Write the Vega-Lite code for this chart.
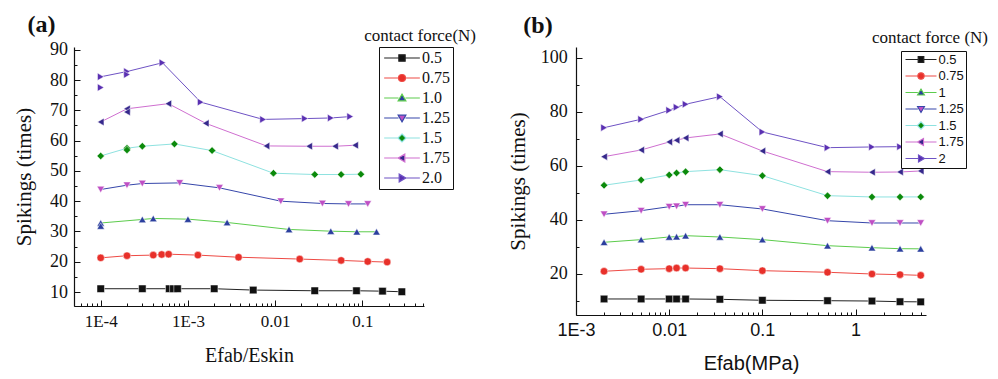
{
  "$schema": "https://vega.github.io/schema/vega-lite/v6.json",
  "background": "white",
  "padding": {"left": 13, "top": 12, "right": 0, "bottom": 0},
  "config": {"view": {"stroke": null}, "axis": {"grid": false}},
  "spacing": 31,
  "resolve": {"scale": {"fill": "independent", "shape": "independent", "stroke": "independent"}, "legend": {"fill": "independent", "shape": "independent", "stroke": "independent"}},
  "datasets": {
    "panelA": [
      {"f": "0.5", "x": 0.0001, "y": 11.1, "r": "a"},
      {"f": "0.5", "x": 0.0003, "y": 11.1, "r": "a"},
      {"f": "0.5", "x": 0.00061, "y": 11.1, "r": "a"},
      {"f": "0.5", "x": 0.00068, "y": 11.1, "r": "a"},
      {"f": "0.5", "x": 0.00076, "y": 11.1, "r": "a"},
      {"f": "0.5", "x": 0.002, "y": 11.1, "r": "a"},
      {"f": "0.5", "x": 0.0056, "y": 10.66, "r": "a"},
      {"f": "0.5", "x": 0.0284, "y": 10.43, "r": "a"},
      {"f": "0.5", "x": 0.0855, "y": 10.43, "r": "a"},
      {"f": "0.5", "x": 0.17, "y": 10.3, "r": "a"},
      {"f": "0.5", "x": 0.283, "y": 10.1, "r": "a"},
      {"f": "0.75", "x": 0.0001, "y": 21.3, "r": "a"},
      {"f": "0.75", "x": 0.0002, "y": 22.0, "r": "a"},
      {"f": "0.75", "x": 0.0004, "y": 22.2, "r": "a"},
      {"f": "0.75", "x": 0.0005, "y": 22.4, "r": "a"},
      {"f": "0.75", "x": 0.0006, "y": 22.5, "r": "a"},
      {"f": "0.75", "x": 0.0013, "y": 22.2, "r": "a"},
      {"f": "0.75", "x": 0.0038, "y": 21.5, "r": "a"},
      {"f": "0.75", "x": 0.0191, "y": 20.9, "r": "a"},
      {"f": "0.75", "x": 0.057, "y": 20.45, "r": "a"},
      {"f": "0.75", "x": 0.115, "y": 20.1, "r": "a"},
      {"f": "0.75", "x": 0.192, "y": 19.9, "r": "a"},
      {"f": "1.0", "x": 0.0001, "y": 32.8, "r": "a"},
      {"f": "1.0", "x": 0.0001, "y": 31.8, "r": "b1"},
      {"f": "1.0", "x": 0.0003, "y": 33.97, "r": "a"},
      {"f": "1.0", "x": 0.0004, "y": 34.3, "r": "a"},
      {"f": "1.0", "x": 0.001, "y": 34.07, "r": "a"},
      {"f": "1.0", "x": 0.00281, "y": 32.98, "r": "a"},
      {"f": "1.0", "x": 0.0144, "y": 30.67, "r": "a"},
      {"f": "1.0", "x": 0.0434, "y": 30.1, "r": "a"},
      {"f": "1.0", "x": 0.0863, "y": 29.9, "r": "a"},
      {"f": "1.0", "x": 0.145, "y": 29.9, "r": "a"},
      {"f": "1.25", "x": 0.0001, "y": 43.86, "r": "a"},
      {"f": "1.25", "x": 0.0002, "y": 45.28, "r": "a"},
      {"f": "1.25", "x": 0.0003, "y": 45.83, "r": "a"},
      {"f": "1.25", "x": 0.000805, "y": 46.04, "r": "a"},
      {"f": "1.25", "x": 0.0023, "y": 44.4, "r": "a"},
      {"f": "1.25", "x": 0.0116, "y": 40.0, "r": "a"},
      {"f": "1.25", "x": 0.0348, "y": 39.24, "r": "a"},
      {"f": "1.25", "x": 0.0692, "y": 39.1, "r": "a"},
      {"f": "1.25", "x": 0.115, "y": 39.1, "r": "a"},
      {"f": "1.5", "x": 0.0001, "y": 54.94, "r": "a"},
      {"f": "1.5", "x": 0.0002, "y": 57.48, "r": "a"},
      {"f": "1.5", "x": 0.0002, "y": 56.9, "r": "b2"},
      {"f": "1.5", "x": 0.0003, "y": 58.14, "r": "a"},
      {"f": "1.5", "x": 0.0007, "y": 58.9, "r": "a"},
      {"f": "1.5", "x": 0.00189, "y": 56.7, "r": "a"},
      {"f": "1.5", "x": 0.00955, "y": 49.23, "r": "a"},
      {"f": "1.5", "x": 0.0284, "y": 48.8, "r": "a"},
      {"f": "1.5", "x": 0.057, "y": 48.8, "r": "a"},
      {"f": "1.5", "x": 0.096, "y": 48.9, "r": "a"},
      {"f": "1.75", "x": 0.0001, "y": 66.15, "r": "a"},
      {"f": "1.75", "x": 0.0002, "y": 70.5, "r": "a"},
      {"f": "1.75", "x": 0.0002, "y": 69.45, "r": "b3"},
      {"f": "1.75", "x": 0.000596, "y": 72.2, "r": "a"},
      {"f": "1.75", "x": 0.0016, "y": 65.7, "r": "a"},
      {"f": "1.75", "x": 0.00794, "y": 58.24, "r": "a"},
      {"f": "1.75", "x": 0.0245, "y": 58.14, "r": "a"},
      {"f": "1.75", "x": 0.0486, "y": 58.14, "r": "a"},
      {"f": "1.75", "x": 0.0824, "y": 58.47, "r": "a"},
      {"f": "2.0", "x": 0.0001, "y": 81.06, "r": "a"},
      {"f": "2.0", "x": 0.0001, "y": 77.5, "r": "b4"},
      {"f": "2.0", "x": 0.0002, "y": 82.8, "r": "a"},
      {"f": "2.0", "x": 0.0002, "y": 81.8, "r": "b5"},
      {"f": "2.0", "x": 0.00051, "y": 85.7, "r": "a"},
      {"f": "2.0", "x": 0.0014, "y": 72.7, "r": "a"},
      {"f": "2.0", "x": 0.00726, "y": 67.0, "r": "a"},
      {"f": "2.0", "x": 0.0219, "y": 67.27, "r": "a"},
      {"f": "2.0", "x": 0.0434, "y": 67.47, "r": "a"},
      {"f": "2.0", "x": 0.0723, "y": 67.93, "r": "a"}
    ],
    "panelB": [
      {"f": "0.5", "x": 0.002, "y": 10.76}, {"f": "0.5", "x": 0.005, "y": 10.76}, {"f": "0.5", "x": 0.01, "y": 10.76}, {"f": "0.5", "x": 0.012, "y": 10.76}, {"f": "0.5", "x": 0.015, "y": 10.76}, {"f": "0.5", "x": 0.035, "y": 10.64}, {"f": "0.5", "x": 0.1, "y": 10.28}, {"f": "0.5", "x": 0.5, "y": 10.13}, {"f": "0.5", "x": 1.5, "y": 10.0}, {"f": "0.5", "x": 3, "y": 9.76}, {"f": "0.5", "x": 5, "y": 9.7},
      {"f": "0.75", "x": 0.002, "y": 21.0}, {"f": "0.75", "x": 0.005, "y": 21.74}, {"f": "0.75", "x": 0.01, "y": 21.96}, {"f": "0.75", "x": 0.012, "y": 22.2}, {"f": "0.75", "x": 0.015, "y": 22.2}, {"f": "0.75", "x": 0.035, "y": 21.96}, {"f": "0.75", "x": 0.1, "y": 21.22}, {"f": "0.75", "x": 0.5, "y": 20.63}, {"f": "0.75", "x": 1.5, "y": 20.0}, {"f": "0.75", "x": 3, "y": 19.75}, {"f": "0.75", "x": 5, "y": 19.5},
      {"f": "1", "x": 0.002, "y": 31.72}, {"f": "1", "x": 0.005, "y": 32.7}, {"f": "1", "x": 0.01, "y": 33.68}, {"f": "1", "x": 0.012, "y": 33.8}, {"f": "1", "x": 0.015, "y": 34.16}, {"f": "1", "x": 0.035, "y": 33.68}, {"f": "1", "x": 0.1, "y": 32.7}, {"f": "1", "x": 0.5, "y": 30.46}, {"f": "1", "x": 1.5, "y": 29.72}, {"f": "1", "x": 3, "y": 29.35}, {"f": "1", "x": 5, "y": 29.3},
      {"f": "1.25", "x": 0.002, "y": 42.07}, {"f": "1.25", "x": 0.005, "y": 43.4}, {"f": "1.25", "x": 0.01, "y": 44.88}, {"f": "1.25", "x": 0.012, "y": 45.0}, {"f": "1.25", "x": 0.015, "y": 45.6}, {"f": "1.25", "x": 0.035, "y": 45.6}, {"f": "1.25", "x": 0.1, "y": 44.03}, {"f": "1.25", "x": 0.5, "y": 39.7}, {"f": "1.25", "x": 1.5, "y": 38.85}, {"f": "1.25", "x": 3, "y": 38.85}, {"f": "1.25", "x": 5, "y": 38.85},
      {"f": "1.5", "x": 0.002, "y": 52.8}, {"f": "1.5", "x": 0.005, "y": 54.75}, {"f": "1.5", "x": 0.01, "y": 56.6}, {"f": "1.5", "x": 0.012, "y": 57.34}, {"f": "1.5", "x": 0.015, "y": 57.83}, {"f": "1.5", "x": 0.035, "y": 58.56}, {"f": "1.5", "x": 0.1, "y": 56.34}, {"f": "1.5", "x": 0.5, "y": 48.95}, {"f": "1.5", "x": 1.5, "y": 48.47}, {"f": "1.5", "x": 3, "y": 48.47}, {"f": "1.5", "x": 5, "y": 48.5},
      {"f": "1.75", "x": 0.002, "y": 63.37}, {"f": "1.75", "x": 0.005, "y": 65.84}, {"f": "1.75", "x": 0.01, "y": 68.8}, {"f": "1.75", "x": 0.012, "y": 69.42}, {"f": "1.75", "x": 0.015, "y": 70.28}, {"f": "1.75", "x": 0.035, "y": 71.76}, {"f": "1.75", "x": 0.1, "y": 65.47}, {"f": "1.75", "x": 0.5, "y": 57.83}, {"f": "1.75", "x": 1.5, "y": 57.6}, {"f": "1.75", "x": 3, "y": 57.7}, {"f": "1.75", "x": 5, "y": 58.08},
      {"f": "2", "x": 0.002, "y": 74.08}, {"f": "2", "x": 0.005, "y": 77.19}, {"f": "2", "x": 0.01, "y": 80.52}, {"f": "2", "x": 0.012, "y": 81.63}, {"f": "2", "x": 0.015, "y": 82.74}, {"f": "2", "x": 0.035, "y": 85.55}, {"f": "2", "x": 0.1, "y": 72.5}, {"f": "2", "x": 0.5, "y": 66.69}, {"f": "2", "x": 1.5, "y": 66.95}, {"f": "2", "x": 3, "y": 67.06}, {"f": "2", "x": 5, "y": 67.3}
    ]
  },
  "hconcat": [
    {
      "title": {"text": "(a)", "anchor": "start", "font": "Liberation Serif", "fontSize": 24, "fontWeight": "bold", "color": "#111", "dx": 14, "offset": -10},
      "resolve": {"scale": {"fill": "independent", "shape": "independent", "stroke": "independent"}, "legend": {"fill": "independent", "shape": "independent", "stroke": "independent"}},
      "vconcat": [
        {
          "title": {"text": "contact force(N)", "anchor": "end", "frame": "group", "font": "Liberation Serif", "fontSize": 17, "fontWeight": "normal", "color": "#111", "dx": 52, "offset": -4},
          "width": 350,
          "height": 259,
          "data": {"name": "panelA"},
          "resolve": {"scale": {"fill": "independent", "shape": "independent", "stroke": "independent"}, "legend": {"fill": "independent", "shape": "independent", "stroke": "independent"}},
          "encoding": {
            "x": {
              "field": "x", "type": "quantitative",
              "scale": {"type": "log", "domain": [0.0000494, 0.508], "nice": false},
              "axis": {
                "title": "Efab/Eskin",
                "titleFont": "Liberation Serif", "titleFontSize": 20, "titleFontWeight": "normal", "titleColor": "#111", "titlePadding": 13,
                "values": [0.00005, 0.00006, 0.00007, 0.00008, 0.00009, 0.0001, 0.0002, 0.0003, 0.0004, 0.0005, 0.0006, 0.0007, 0.0008, 0.0009, 0.001, 0.002, 0.003, 0.004, 0.005, 0.006, 0.007, 0.008, 0.009, 0.01, 0.02, 0.03, 0.04, 0.05, 0.06, 0.07, 0.08, 0.09, 0.1, 0.2, 0.3, 0.4, 0.5],
                "labelExpr": "datum.value == 0.0001 ? '1E-4' : datum.value == 0.001 ? '1E-3' : datum.value == 0.01 ? '0.01' : datum.value == 0.1 ? '0.1' : ''",
                "labelFont": "Liberation Serif", "labelFontSize": 17, "labelColor": "#111",
                "labelOverlap": false, "labelFlush": false, "labelPadding": 13,
                "tickSize": {"condition": {"test": "datum.value == 0.0001 || datum.value == 0.001 || datum.value == 0.01 || datum.value == 0.1", "value": -6}, "value": -3},
                "tickColor": "#111", "domainColor": "#111", "domainWidth": 1.2
              }
            },
            "y": {
              "field": "y", "type": "quantitative",
              "scale": {"domain": [5.4, 90.9], "nice": false, "zero": false},
              "axis": {
                "title": "Spikings (times)",
                "titleFont": "Liberation Serif", "titleFontSize": 21, "titleFontWeight": "normal", "titleColor": "#111", "titlePadding": 15,
                "values": [10, 15, 20, 25, 30, 35, 40, 45, 50, 55, 60, 65, 70, 75, 80, 85, 90],
                "labelExpr": "datum.value % 10 == 0 ? datum.label : ''",
                "labelFont": "Liberation Serif", "labelFontSize": 18, "labelColor": "#111",
                "labelOverlap": false, "labelFlush": false, "labelPadding": 12.6,
                "tickSize": {"condition": {"test": "datum.value % 10 == 0", "value": -6}, "value": -3},
                "tickColor": "#111", "domainColor": "#111", "domainWidth": 1.2
              }
            }
          },
          "layer": [
            {
              "mark": {"type": "line", "strokeWidth": 1},
              "encoding": {
                "stroke": {"field": "f", "type": "nominal", "legend": null,
                  "scale": {"range": ["#222222", "#ee4a44", "#5ccc4c", "#3646aa", "#8ee2e0", "#cf6fd0", "#6e52c4"]}},
                "detail": {"field": "r", "type": "nominal"}
              }
            },
            {
              "mark": {"type": "point", "filled": true, "size": 56, "opacity": 1, "stroke": "white", "strokeWidth": 0.5},
              "encoding": {
                "fill": {"field": "f", "type": "nominal", "legend": null,
                  "scale": {"range": ["#111111", "#e8302a", "#2b3f9e", "#bf4fc4", "#0b8a0b", "#36288c", "#5a30b2"]}},
                "shape": {"field": "f", "type": "nominal", "legend": null,
                  "scale": {"range": ["square", "circle", "triangle-up", "triangle-down", "diamond", "triangle-left", "triangle-right"]}}
              }
            },
            {
              "transform": [{"filter": "false"}],
              "mark": {"type": "point", "filled": true, "size": 49, "opacity": 1, "strokeWidth": 1.2},
              "encoding": {
                "fill": {"field": "f", "type": "nominal",
                  "scale": {"domain": ["0.5", "0.75", "1.0", "1.25", "1.5", "1.75", "2.0"], "range": ["#111111", "#e8302a", "#2b3f9e", "#bf4fc4", "#0b8a0b", "#36288c", "#5a30b2"]},
                  "legend": {"title": null, "orient": "none", "legendX": 305, "legendY": 0, "strokeColor": "#111", "fillColor": "white", "padding": 3, "rowPadding": 4, "symbolSize": 49, "symbolStrokeWidth": 1.2, "symbolOffset": 12, "labelOffset": 12, "labelFont": "Liberation Serif", "labelFontSize": 16, "labelColor": "#111"}},
                "stroke": {"field": "f", "type": "nominal",
                  "scale": {"domain": ["0.5", "0.75", "1.0", "1.25", "1.5", "1.75", "2.0"], "range": ["#222222", "#ee4a44", "#5ccc4c", "#3646aa", "#8ee2e0", "#cf6fd0", "#6e52c4"]},
                  "legend": {"title": null, "orient": "none", "legendX": 305, "legendY": 0, "strokeColor": "#111", "fillColor": "white", "padding": 3, "rowPadding": 4, "symbolSize": 49, "symbolStrokeWidth": 1.2, "symbolOffset": 12, "labelOffset": 12, "labelFont": "Liberation Serif", "labelFontSize": 16, "labelColor": "#111"}},
                "shape": {"field": "f", "type": "nominal",
                  "scale": {"domain": ["0.5", "0.75", "1.0", "1.25", "1.5", "1.75", "2.0"], "range": ["M-5.1,0H-0.9M0.9,0H5.1M-0.9,-0.9H0.9V0.9H-0.9Z", "M-5.1,0H-1M1,0H5.1M1,0A1,1 0 1,1 -1,0A1,1 0 1,1 1,0Z", "M-5.1,0H-1M1,0H5.1M0,-1.1L1.1,0.8H-1.1Z", "M-5.1,0H-1M1,0H5.1M0,1.1L1.1,-0.8H-1.1Z", "M-5.1,0H-1.1M1.1,0H5.1M0,-1.15L1.15,0L0,1.15L-1.15,0Z", "M-5.1,0H-1.1M0.8,0H5.1M-1.1,0L0.8,-1.1V1.1Z", "M-5.1,0H-0.8M1.1,0H5.1M1.1,0L-0.8,-1.1V1.1Z"]},
                  "legend": {"title": null, "orient": "none", "legendX": 305, "legendY": 0, "strokeColor": "#111", "fillColor": "white", "padding": 3, "rowPadding": 4, "symbolSize": 49, "symbolStrokeWidth": 1.2, "symbolOffset": 12, "labelOffset": 12, "labelFont": "Liberation Serif", "labelFontSize": 16, "labelColor": "#111"}}
              }
            }
          ]
        }
      ]
    },
    {
      "title": {"text": "(b)", "anchor": "start", "font": "Liberation Serif", "fontSize": 24, "fontWeight": "bold", "color": "#111", "dx": 16, "offset": -9},
      "resolve": {"scale": {"fill": "independent", "shape": "independent", "stroke": "independent"}, "legend": {"fill": "independent", "shape": "independent", "stroke": "independent"}},
      "vconcat": [
        {
          "title": {"text": "contact force (N)", "anchor": "end", "frame": "group", "font": "Liberation Serif", "fontSize": 17, "fontWeight": "normal", "color": "#111", "dx": 62, "offset": 0},
          "width": 350,
          "height": 268,
          "data": {"name": "panelB"},
          "resolve": {"scale": {"fill": "independent", "shape": "independent", "stroke": "independent"}, "legend": {"fill": "independent", "shape": "independent", "stroke": "independent"}},
          "encoding": {
            "x": {
              "field": "x", "type": "quantitative",
              "scale": {"type": "log", "domain": [0.001, 5.7], "nice": false},
              "axis": {
                "title": "Efab(MPa)",
                "titleFont": "Liberation Sans", "titleFontSize": 20, "titleFontWeight": "normal", "titleColor": "#111", "titlePadding": 11,
                "values": [0.001, 0.002, 0.003, 0.004, 0.005, 0.006, 0.007, 0.008, 0.009, 0.01, 0.02, 0.03, 0.04, 0.05, 0.06, 0.07, 0.08, 0.09, 0.1, 0.2, 0.3, 0.4, 0.5, 0.6, 0.7, 0.8, 0.9, 1, 2, 3, 4, 5],
                "labelExpr": "datum.value == 0.001 ? '1E-3' : datum.value == 0.01 ? '0.01' : datum.value == 0.1 ? '0.1' : datum.value == 1 ? '1' : ''",
                "labelFont": "Liberation Sans", "labelFontSize": 18, "labelColor": "#111",
                "labelOverlap": false, "labelFlush": false, "labelPadding": 12.7,
                "tickSize": {"condition": {"test": "datum.value == 0.001 || datum.value == 0.01 || datum.value == 0.1 || datum.value == 1", "value": -6}, "value": -3},
                "tickColor": "#111", "domainColor": "#111", "domainWidth": 1.2
              }
            },
            "y": {
              "field": "y", "type": "quantitative",
              "scale": {"domain": [4.84, 103.9], "nice": false, "zero": false},
              "axis": {
                "title": "Spikings (times)",
                "titleFont": "Liberation Serif", "titleFontSize": 21, "titleFontWeight": "normal", "titleColor": "#111", "titlePadding": 12,
                "values": [10, 20, 30, 40, 50, 60, 70, 80, 90, 100],
                "labelExpr": "datum.value % 20 == 0 ? datum.label : ''",
                "labelFont": "Liberation Serif", "labelFontSize": 18, "labelColor": "#111",
                "labelOverlap": false, "labelFlush": false, "labelPadding": 14.7,
                "tickSize": {"condition": {"test": "datum.value % 20 == 0", "value": -6}, "value": -3},
                "tickColor": "#111", "domainColor": "#111", "domainWidth": 1.2
              }
            }
          },
          "layer": [
            {
              "mark": {"type": "line", "strokeWidth": 1},
              "encoding": {
                "stroke": {"field": "f", "type": "nominal", "legend": null,
                  "scale": {"range": ["#222222", "#ee4a44", "#5ccc4c", "#3646aa", "#8ee2e0", "#cf6fd0", "#6e52c4"]}}
              }
            },
            {
              "mark": {"type": "point", "filled": true, "size": 56, "opacity": 1, "stroke": "white", "strokeWidth": 0.5},
              "encoding": {
                "fill": {"field": "f", "type": "nominal", "legend": null,
                  "scale": {"range": ["#111111", "#e8302a", "#2b3f9e", "#bf4fc4", "#0b8a0b", "#36288c", "#5a30b2"]}},
                "shape": {"field": "f", "type": "nominal", "legend": null,
                  "scale": {"range": ["square", "circle", "triangle-up", "triangle-down", "diamond", "triangle-left", "triangle-right"]}}
              }
            },
            {
              "transform": [{"filter": "false"}],
              "mark": {"type": "point", "filled": true, "size": 40, "opacity": 1, "strokeWidth": 1.1},
              "encoding": {
                "fill": {"field": "f", "type": "nominal",
                  "scale": {"domain": ["0.5", "0.75", "1", "1.25", "1.5", "1.75", "2"], "range": ["#111111", "#e8302a", "#2b3f9e", "#bf4fc4", "#0b8a0b", "#36288c", "#5a30b2"]},
                  "legend": {"title": null, "orient": "none", "legendX": 325, "legendY": 4, "strokeColor": "#111", "fillColor": "white", "padding": 2, "rowPadding": 2.5, "symbolSize": 40, "symbolStrokeWidth": 1.1, "symbolOffset": 11.5, "labelOffset": 11, "labelFont": "Liberation Sans", "labelFontSize": 13, "labelColor": "#111"}},
                "stroke": {"field": "f", "type": "nominal",
                  "scale": {"domain": ["0.5", "0.75", "1", "1.25", "1.5", "1.75", "2"], "range": ["#222222", "#ee4a44", "#5ccc4c", "#3646aa", "#8ee2e0", "#cf6fd0", "#6e52c4"]},
                  "legend": {"title": null, "orient": "none", "legendX": 325, "legendY": 4, "strokeColor": "#111", "fillColor": "white", "padding": 2, "rowPadding": 2.5, "symbolSize": 40, "symbolStrokeWidth": 1.1, "symbolOffset": 11.5, "labelOffset": 11, "labelFont": "Liberation Sans", "labelFontSize": 13, "labelColor": "#111"}},
                "shape": {"field": "f", "type": "nominal",
                  "scale": {"domain": ["0.5", "0.75", "1", "1.25", "1.5", "1.75", "2"], "range": ["M-4.9,0H-0.9M0.9,0H4.9M-0.9,-0.9H0.9V0.9H-0.9Z", "M-4.9,0H-1M1,0H4.9M1,0A1,1 0 1,1 -1,0A1,1 0 1,1 1,0Z", "M-4.9,0H-1M1,0H4.9M0,-1.1L1.1,0.8H-1.1Z", "M-4.9,0H-1M1,0H4.9M0,1.1L1.1,-0.8H-1.1Z", "M-4.9,0H-1.1M1.1,0H4.9M0,-1.15L1.15,0L0,1.15L-1.15,0Z", "M-4.9,0H-1.1M0.8,0H4.9M-1.1,0L0.8,-1.1V1.1Z", "M-4.9,0H-0.8M1.1,0H4.9M1.1,0L-0.8,-1.1V1.1Z"]},
                  "legend": {"title": null, "orient": "none", "legendX": 325, "legendY": 4, "strokeColor": "#111", "fillColor": "white", "padding": 2, "rowPadding": 2.5, "symbolSize": 40, "symbolStrokeWidth": 1.1, "symbolOffset": 11.5, "labelOffset": 11, "labelFont": "Liberation Sans", "labelFontSize": 13, "labelColor": "#111"}}
              }
            }
          ]
        }
      ]
    }
  ]
}
